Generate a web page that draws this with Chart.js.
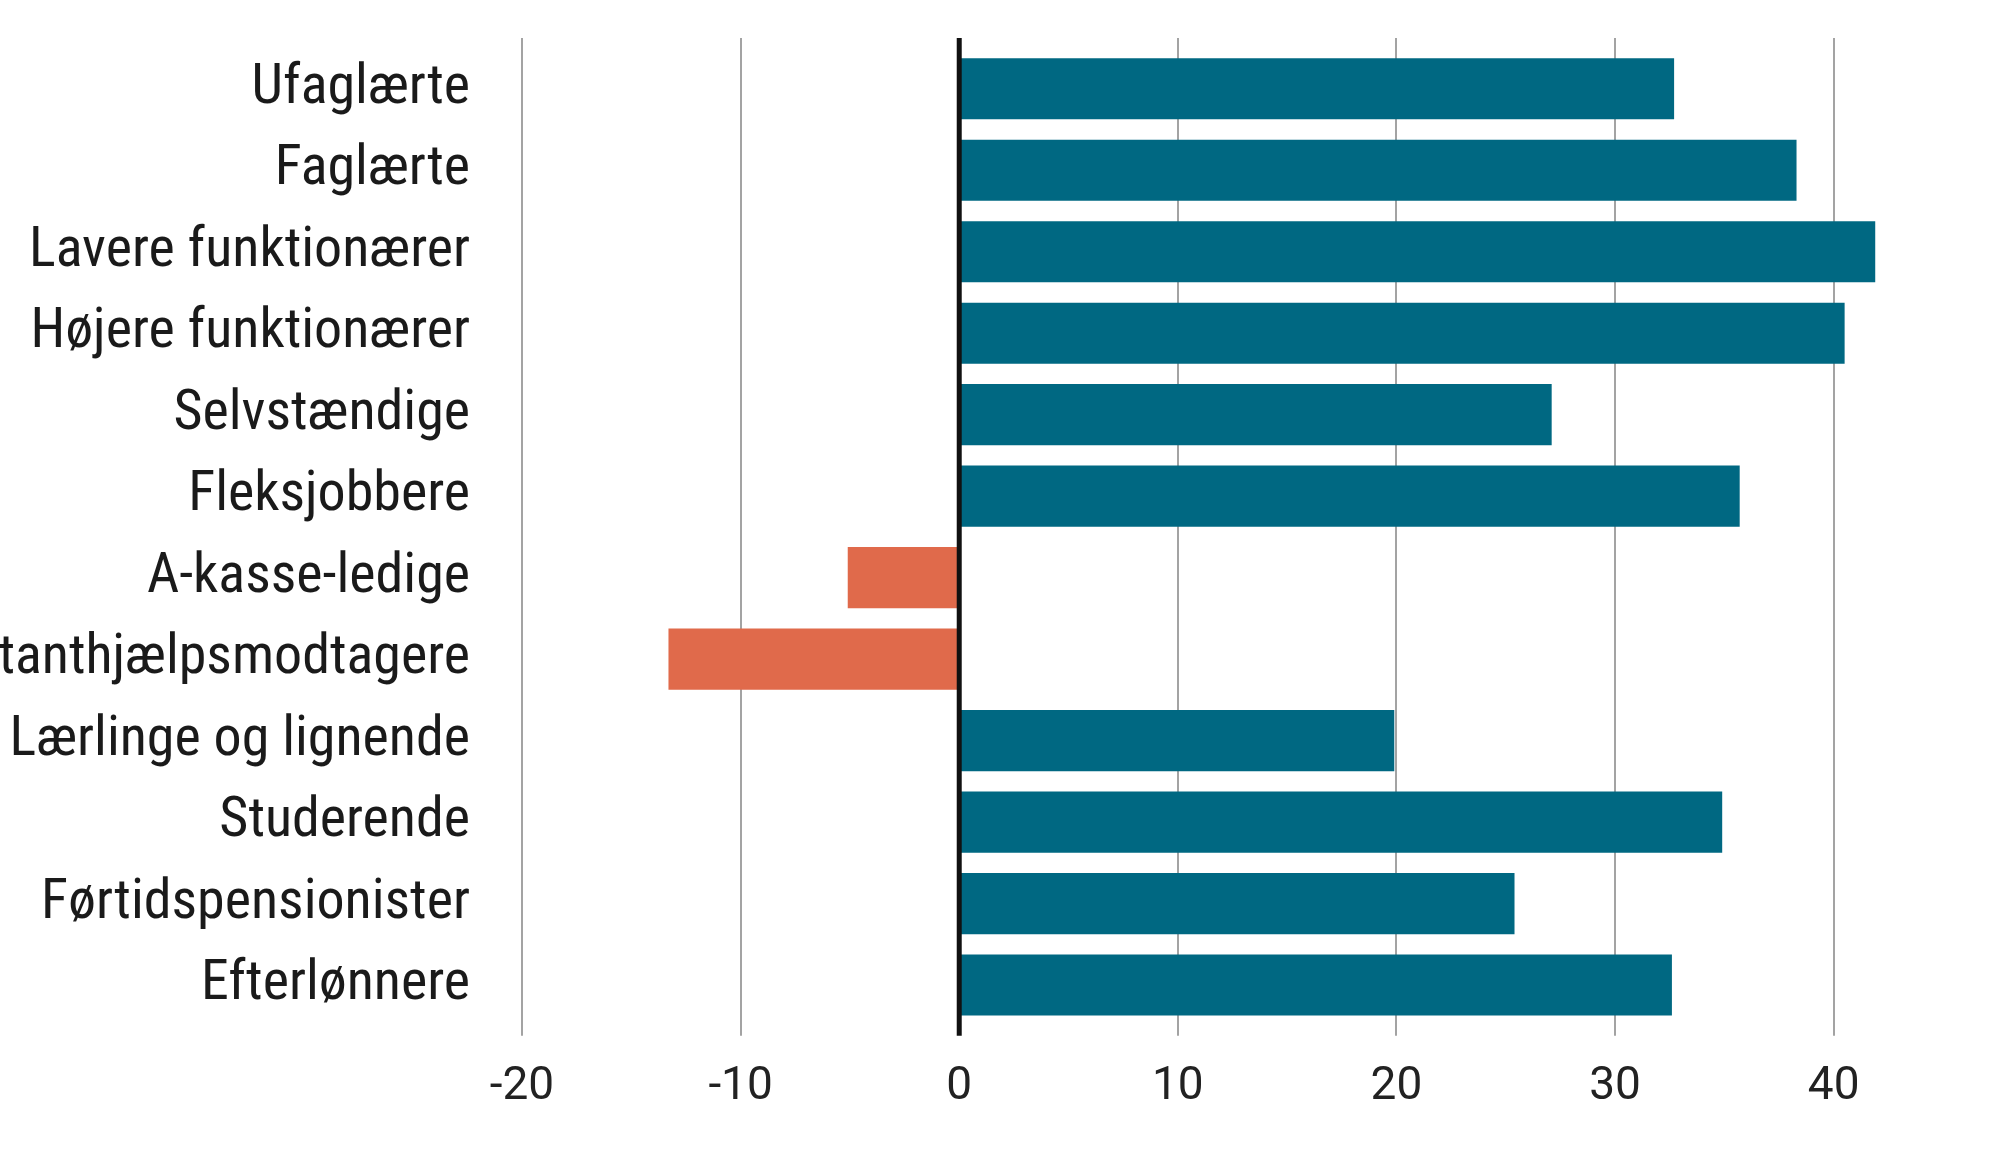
<!DOCTYPE html>
<html>
<head>
<meta charset="utf-8">
<script src="https://cdn.jsdelivr.net/npm/chart.js@4"></script>
<style>
  html, body { margin: 0; padding: 0; background: #fff; }
  #wrap { width: 2000px; height: 1165px; }
</style>
</head>
<body>
<div id="wrap"><canvas id="groups-chart"></canvas></div>
<script>
const categories = [
  'Ufaglærte', 'Faglærte', 'Lavere funktionærer', 'Højere funktionærer',
  'Selvstændige', 'Fleksjobbere', 'A-kasse-ledige', 'Kontanthjælpsmodtagere',
  'Lærlinge og lignende', 'Studerende', 'Førtidspensionister', 'Efterlønnere'
];
const values = [32.7, 38.3, 41.9, 40.5, 27.1, 35.7, -5.1, -13.3, 19.9, 34.9, 25.4, 32.6];
const xTicks = [-20, -10, 0, 10, 20, 30, 40];

const posColor = '#006882';
const negColor = '#e06a4b';
const labelFont = "'Roboto Condensed', 'Liberation Sans Narrow', 'DejaVu Sans Condensed', sans-serif";

// zero line sits on top of the bars
const zeroLine = {
  id: 'zeroLine',
  afterDatasetsDraw(chart) {
    const { ctx, chartArea, scales } = chart;
    const x = scales.x.getPixelForValue(0);
    ctx.save();
    ctx.strokeStyle = '#111';
    ctx.lineWidth = 5;
    ctx.beginPath();
    ctx.moveTo(x, chartArea.top - 10);
    ctx.lineTo(x, chartArea.bottom + 10);
    ctx.stroke();
    ctx.restore();
  }
};

const keepTicks = (scale) => {
  scale.ticks = xTicks.map(v => ({ value: v }));
};

const gridColor = (ctx) => (ctx.tick && ctx.tick.value === 0 ? 'rgba(0,0,0,0)' : '#a3a3a3');

new Chart(document.getElementById('groups-chart'), {
  type: 'bar',
  data: {
    labels: categories,
    datasets: [{
      data: values,
      backgroundColor: values.map(v => (v < 0 ? negColor : posColor)),
      categoryPercentage: 1,
      barPercentage: 0.75,
    }]
  },
  options: {
    indexAxis: 'y',
    responsive: true,
    maintainAspectRatio: false,
    animation: false,
    layout: { padding: { top: 38, right: 57, bottom: 26, left: 0 } },
    plugins: { legend: { display: false }, tooltip: { enabled: false } },
    scales: {
      x: {
        position: 'bottom',
        min: -20,
        max: 45,
        afterBuildTicks: keepTicks,
        border: { display: false },
        grid: { color: gridColor, lineWidth: 2, tickLength: 10 },
        ticks: {
          padding: 24,
          color: '#222',
          font: { family: 'Roboto', size: 46 },
        },
      },
      x2: {
        position: 'top',
        min: -20,
        max: 45,
        afterBuildTicks: keepTicks,
        border: { display: false },
        grid: { color: gridColor, lineWidth: 2, tickLength: 10, drawOnChartArea: false },
        ticks: { display: false },
      },
      y: {
        afterFit(scale) {
          scale.width = 522;
          scale.paddingTop = 0;
          scale.paddingBottom = 0;
        },
        border: { display: false },
        grid: { display: false },
        ticks: {
          padding: 44,
          color: '#1a1a1a',
          autoSkip: false,
          font: { family: labelFont, size: 56 },
        },
      },
    },
  },
  plugins: [zeroLine],
});
</script>
</body>
</html>
